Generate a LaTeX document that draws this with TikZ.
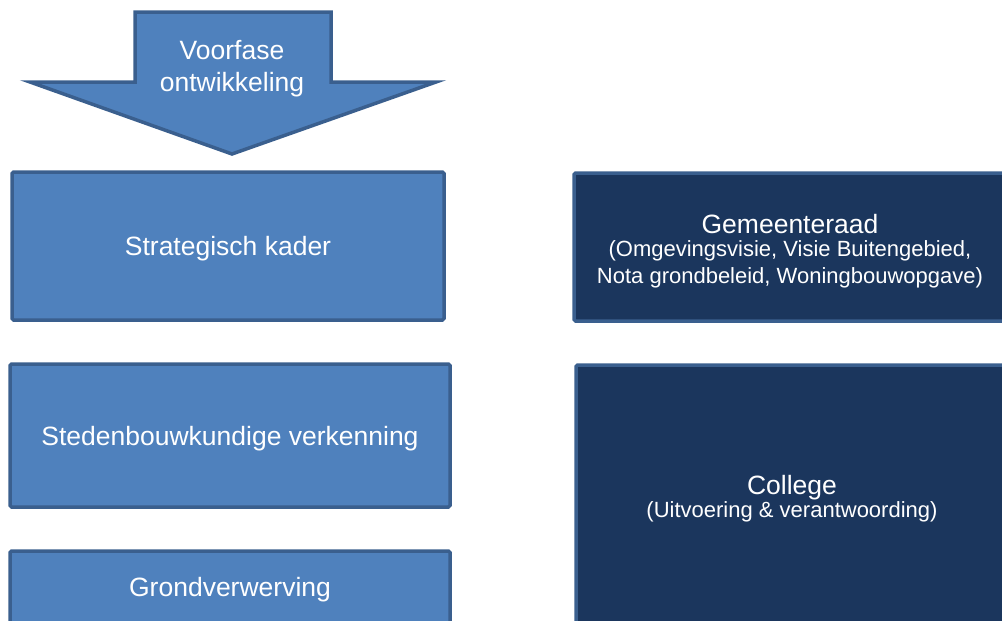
\documentclass[tikz,border=0pt]{standalone}
\usepackage{fontspec}
\setmainfont{Liberation Sans}
\definecolor{lightfill}{HTML}{4F81BD}
\definecolor{edgeblue}{HTML}{3A5F8E}
\definecolor{darkfill}{HTML}{1B365D}
\newcommand{\bigtxt}{\fontsize{26.5}{32}\selectfont}
\newcommand{\subtxt}{\fontsize{22}{24.5}\selectfont}
\tikzset{
  phasebox/.style={draw=edgeblue, fill=lightfill, line width=3.5pt, rounded corners=1.5pt, inner sep=0pt},
  organbox/.style={draw=edgeblue, fill=darkfill, line width=3.5pt, rounded corners=1.5pt, inner sep=0pt},
  boxtext/.style={text=white, align=center, inner sep=0pt, font=\bigtxt},
}
\begin{document}
\begin{tikzpicture}[x=1pt,y=-1pt]
\useasboundingbox (0,0) rectangle (1002,621);
\clip (0,0) rectangle (1002,621);
% arrow
\draw[draw=edgeblue, fill=lightfill, line width=3.5pt, line join=miter]
  (135,12) -- (331,12) -- (331,82) -- (436,82) -- (232,154) -- (30,82) -- (135,82) -- cycle;
\node[boxtext] (voorfase) at (232,69) {Voorfase\\ontwikkeling};
% left column
\node[phasebox, minimum width=432pt, minimum height=148pt] (kader) at (228,246) {};
\node[boxtext] (kadertxt) at (228,249) {Strategisch kader};
\node[phasebox, minimum width=440pt, minimum height=143pt] (verk) at (230,435.5) {};
\node[boxtext] (verktxt) at (230,438.5) {Stedenbouwkundige verkenning};
\node[phasebox, minimum width=440pt, minimum height=120pt] (grond) at (230,611) {};
\node[boxtext] (grondtxt) at (230,590) {Grondverwerving};
% right column
\node[organbox, minimum width=436pt, minimum height=148pt] (raad) at (792,247) {};
\node[boxtext] (raadtxt) at (790,251) {Gemeenteraad\\[-9pt]\subtxt (Omgevingsvisie, Visie Buitengebied,\\[-5pt]\subtxt Nota grondbeleid, Woningbouwopgave)};
\node[organbox, minimum width=436pt, minimum height=290pt] (college) at (794,510) {};
\node[boxtext] (collegetxt) at (792,499) {College\\[-9pt]\subtxt (Uitvoering \& verantwoording)};
\end{tikzpicture}
\end{document}
